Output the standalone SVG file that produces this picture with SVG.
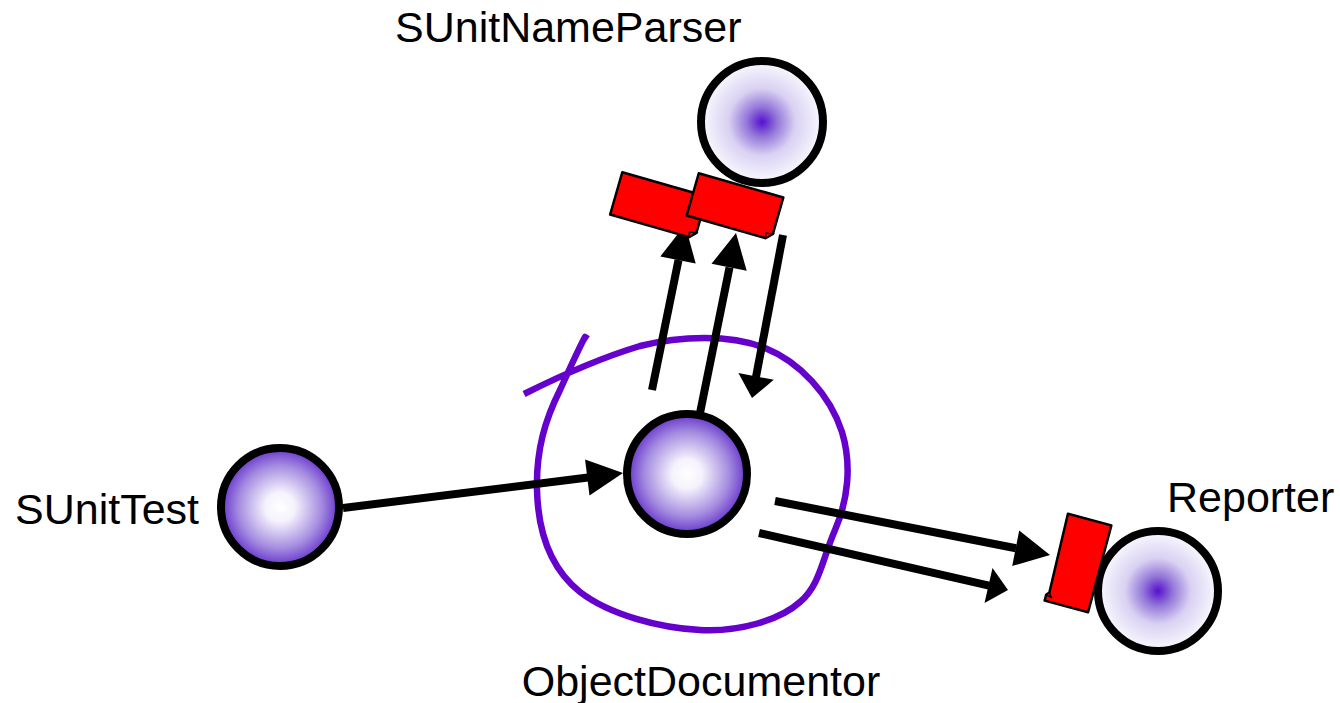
<svg xmlns="http://www.w3.org/2000/svg" width="1340" height="703" viewBox="0 0 1340 703">
  <defs>
    <!-- white core fading out to a violet rim -->
    <radialGradient id="glowOut" cx="50%" cy="50%" r="50%">
      <stop offset="0" stop-color="#ffffff"/>
      <stop offset="0.25" stop-color="#f5f2fc"/>
      <stop offset="0.7" stop-color="#a58de0"/>
      <stop offset="1" stop-color="#6633cc"/>
    </radialGradient>
    <!-- violet core fading out to a white rim -->
    <radialGradient id="glowIn" cx="50%" cy="50%" r="50%">
      <stop offset="0" stop-color="#5511cc"/>
      <stop offset="0.25" stop-color="#9477d9"/>
      <stop offset="0.55" stop-color="#d9d1f2"/>
      <stop offset="1" stop-color="#fafaff"/>
    </radialGradient>
  </defs>
  <style>
    .obj { stroke: #000; stroke-width: 8; }
    .label { font-family: "Liberation Sans", Arial, sans-serif; font-size: 43px; fill: #000; }
    .shaft { stroke: #000; stroke-width: 8; fill: none; stroke-linecap: butt; }
    .head { fill: #000; }
    .msg { fill: #ff0000; stroke: #000; stroke-width: 2.5; stroke-linejoin: round; }
    .curl { fill: #ff0000; stroke: #000; stroke-width: 1.5; }
    .scope { fill: none; stroke: #6600cc; stroke-width: 6.5; stroke-linejoin: round; }
  </style>

  <!-- hand-drawn boundary around ObjectDocumentor -->
  <g id="boundary">
    <path class="scope" d="M524,394 C560,376 600,358 640,346 C680,336 730,334 765,348 C800,362 830,395 842,432 C852,465 848,500 835,530 C822,560 820,585 800,602 C780,620 740,632 700,630 C660,628 610,615 580,592 C550,568 538,530 537,490 C536,450 545,420 560,390 C570,368 578,350 585,337 l3,2"/>
  </g>

  <g id="connectors">
    <!-- SUnitTest to ObjectDocumentor -->
    <line class="shaft" x1="343" y1="508" x2="588" y2="477.5"/>
    <polygon class="head" points="623,473 589.5,495.4 585.1,459.6"/>
    <!-- ObjectDocumentor up to the first message -->
    <line class="shaft" x1="652" y1="390" x2="678.5" y2="260"/>
    <polygon class="head" points="685.1,224.7 695.7,263.5 660.3,256.5"/>
    <!-- ObjectDocumentor up to the second message -->
    <line class="shaft" x1="700" y1="413" x2="729.5" y2="267.5"/>
    <polygon class="head" points="736,233 746.7,270.8 711.5,263.8"/>
    <!-- reply back down to ObjectDocumentor -->
    <line class="shaft" x1="783" y1="235" x2="756" y2="377"/>
    <polygon class="head" points="752,398 773.8,379.8 738.4,373"/>
    <!-- ObjectDocumentor to Reporter -->
    <line class="shaft" x1="775" y1="501" x2="1016" y2="548.3"/>
    <polygon class="head" points="1050,555 1012.2,566 1019.2,530.6"/>
    <line class="shaft" x1="759" y1="533" x2="989" y2="585.6"/>
    <polygon class="head" points="1008,590 984.5,603.1 992.5,568"/>
  </g>

  <g id="SUnitTest">
    <circle class="obj" cx="280" cy="507" r="59" fill="url(#glowOut)"/>
    <text class="label" x="15" y="524">SUnitTest</text>
  </g>

  <g id="ObjectDocumentor">
    <circle class="obj" cx="687" cy="474" r="60" fill="url(#glowOut)"/>
    <text class="label" x="701" y="696" text-anchor="middle">ObjectDocumentor</text>
  </g>

  <g id="SUnitNameParser">
    <circle class="obj" cx="762" cy="122" r="61" fill="url(#glowIn)"/>
    <text class="label" x="395" y="42">SUnitNameParser</text>
  </g>

  <g id="Reporter">
    <circle class="obj" cx="1158" cy="591" r="60" fill="url(#glowIn)"/>
    <text class="label" x="1167" y="512">Reporter</text>
  </g>

  <!-- message tokens with a curled corner -->
  <g id="message1" transform="translate(658.5,205.5) rotate(16)">
    <path class="msg" d="M-44,-22 H44 V16 L38,22 H-44 Z"/>
    <path class="curl" d="M44,16 L38,22 L37,17 Z"/>
  </g>
  <g id="message2" transform="translate(735,206.5) rotate(16)">
    <path class="msg" d="M-44,-22 H44 V16 L38,22 H-44 Z"/>
    <path class="curl" d="M44,16 L38,22 L37,17 Z"/>
  </g>
  <g id="message3" transform="translate(1078,563) rotate(15)">
    <path class="msg" d="M-22.5,-45 H22.5 V45 H-22.5 V39 L-20,36 Z"/>
    <path class="curl" d="M-22.5,39 L-20,36 L-17,40 Z"/>
  </g>
</svg>
